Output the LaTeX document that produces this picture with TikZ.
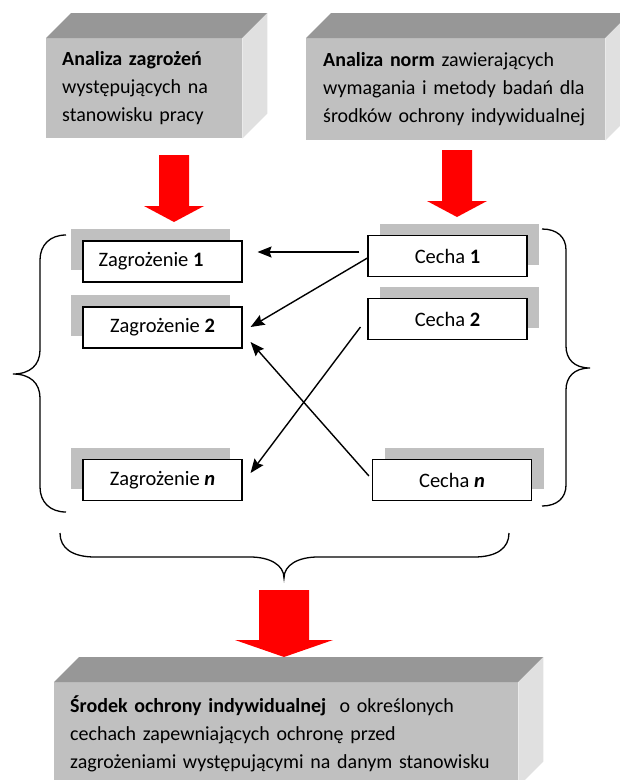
\documentclass[tikz,border=0pt]{standalone}
\usepackage{fontspec}
\setmainfont{Carlito}
\usetikzlibrary{calc,arrows.meta,shadows}
\definecolor{frontgray}{HTML}{C0C0C0}
\definecolor{topgray}{HTML}{979797}
\definecolor{sidegray}{HTML}{E0E0E0}
\definecolor{shadowgray}{HTML}{C0C0C0}
\definecolor{redarrow}{HTML}{FF0000}
\tikzset{
  txt/.style={font=\fontsize{20}{28}\selectfont},
  frontface/.style={txt, fill=frontgray, draw=none, anchor=north west, inner xsep=16pt, inner ysep=0pt, align=left},
  topface/.style={fill=topgray},
  sideface/.style={fill=sidegray},
  itembox/.style={font=\fontsize{20.5}{28}\selectfont, draw=black, line width=1.1pt, fill=white, minimum width=159pt, minimum height=41pt, inner sep=0pt},
  zshadow/.style={general shadow={fill=shadowgray, draw=none, shadow xshift=-12pt, shadow yshift=12pt}},
  cshadow/.style={general shadow={fill=shadowgray, draw=none, shadow xshift=12pt, shadow yshift=12pt}},
  conn/.style={draw=black, line width=1.4pt, -{Stealth[length=14pt,width=11pt,inset=2pt]}},
  bracepath/.style={draw=black, line width=1.3pt},
  bigarrow/.style={fill=redarrow}
}
\begin{document}
\begin{tikzpicture}[x=1pt,y=-1pt]
\clip (0,0) rectangle (620,780);
\fill[white] (0,0) rectangle (620,780);

% top left cube
\node[frontface, minimum width=196pt, minimum height=100pt, text width=164pt] (tl) at (46,38)
  {\mbox{\textbf{Analiza zagrożeń}}\\\mbox{występujących na}\\\mbox{stanowisku pracy}};
\fill[topface] (tl.north west) -- ++(25,-25) -- ($(tl.north east)+(25,-25)$) -- (tl.north east) -- cycle;
\fill[sideface] (tl.north east) -- ++(25,-25) -- ($(tl.south east)+(25,-25)$) -- (tl.south east) -- cycle;

% top right cube
\node[frontface, minimum width=299pt, minimum height=102pt, inner xsep=17pt, text width=265pt] (tr) at (306,38)
  {\mbox{\textbf{Analiza norm} zawierających}\\\mbox{wymagania i metody badań dla}\\\mbox{środków ochrony indywidualnej}};
\fill[topface] (tr.north west) -- ++(25,-25) -- ($(tr.north east)+(25,-25)$) -- (tr.north east) -- cycle;
\fill[sideface] (tr.north east) -- ++(25,-25) -- ($(tr.south east)+(25,-25)$) -- (tr.south east) -- cycle;

% bottom cube
\node[frontface, minimum width=464pt, minimum height=104pt, text width=432pt] (bt) at (54,682)
  {\mbox{\textbf{Środek ochrony indywidualnej}\ \ o określonych}\\\mbox{cechach zapewniających ochronę przed}\\\mbox{zagrożeniami występującymi na danym stanowisku}};
\fill[topface] (bt.north west) -- ++(25,-25) -- ($(bt.north east)+(25,-25)$) -- (bt.north east) -- cycle;
\fill[sideface] (bt.north east) -- ++(25,-25) -- ($(bt.south east)+(25,-25)$) -- (bt.south east) -- cycle;

% red arrows
\fill[bigarrow] (159,155) -- (189,155) -- (189,206) -- (204,206) -- (174,222) -- (144,206) -- (159,206) -- cycle;
\fill[bigarrow] (442,150) -- (472,150) -- (472,201) -- (487,201) -- (457,217) -- (427,201) -- (442,201) -- cycle;
\fill[bigarrow] (259,590) -- (309,590) -- (309,640) -- (333,640) -- (284,657) -- (235,640) -- (259,640) -- cycle;

% item boxes
\node[itembox, zshadow] (z1) at (162.5,261.5) {Zagrożenie \textbf{1}\hspace*{23pt}};
\node[itembox, zshadow] (z2) at (162.5,327.5) {Zagrożenie \textbf{2}};
\node[itembox, zshadow] (zn) at (162.5,480) {Zagrożenie \textbf{\textit{n}}};
\node[itembox, cshadow] (c1) at (447.5,256) {Cecha \textbf{1}};
\node[itembox, cshadow] (c2) at (447.5,319) {Cecha \textbf{2}};
\node[itembox, cshadow] (cn) at (452,480) {Cecha \textbf{\textit{n}}};

% connectors
\draw[conn] ($(c1.west)+(-8,-4)$) -- ($(z1.east)+(15,-9.5)$);
\draw[conn] ($(c1.west)+(0,2)$) -- ($(z2.east)+(8,-0.5)$);
\draw[conn] ($(c2.west)+(-7,8)$) -- ($(zn.east)+(8,-7)$);
\draw[conn] ($(cn.west)+(-3,-4)$) -- ($(z2.east)+(8,14.5)$);

% braces
\draw[bracepath] (66,235) .. controls (50,235) and (40,245) .. (40,260) -- (40,350)
  .. controls (40,365) and (30,374) .. (13,374)
  .. controls (30,374) and (40,383) .. (40,398) -- (40,487)
  .. controls (40,502) and (50,512) .. (66,512);
\draw[bracepath] (542,229) .. controls (557,229) and (566,237) .. (566,250) -- (566,346)
  .. controls (566,359) and (574,368) .. (590,368)
  .. controls (574,368) and (566,377) .. (566,390) -- (566,485)
  .. controls (566,498) and (557,506) .. (542,506);
\draw[bracepath] (60,533) .. controls (60,548) and (72,557) .. (95,557) -- (250,557)
  .. controls (270,557) and (284,565) .. (284,578)
  .. controls (284,565) and (298,557) .. (318,557) -- (474,557)
  .. controls (497,557) and (509,548) .. (509,533);
\end{tikzpicture}
\end{document}
